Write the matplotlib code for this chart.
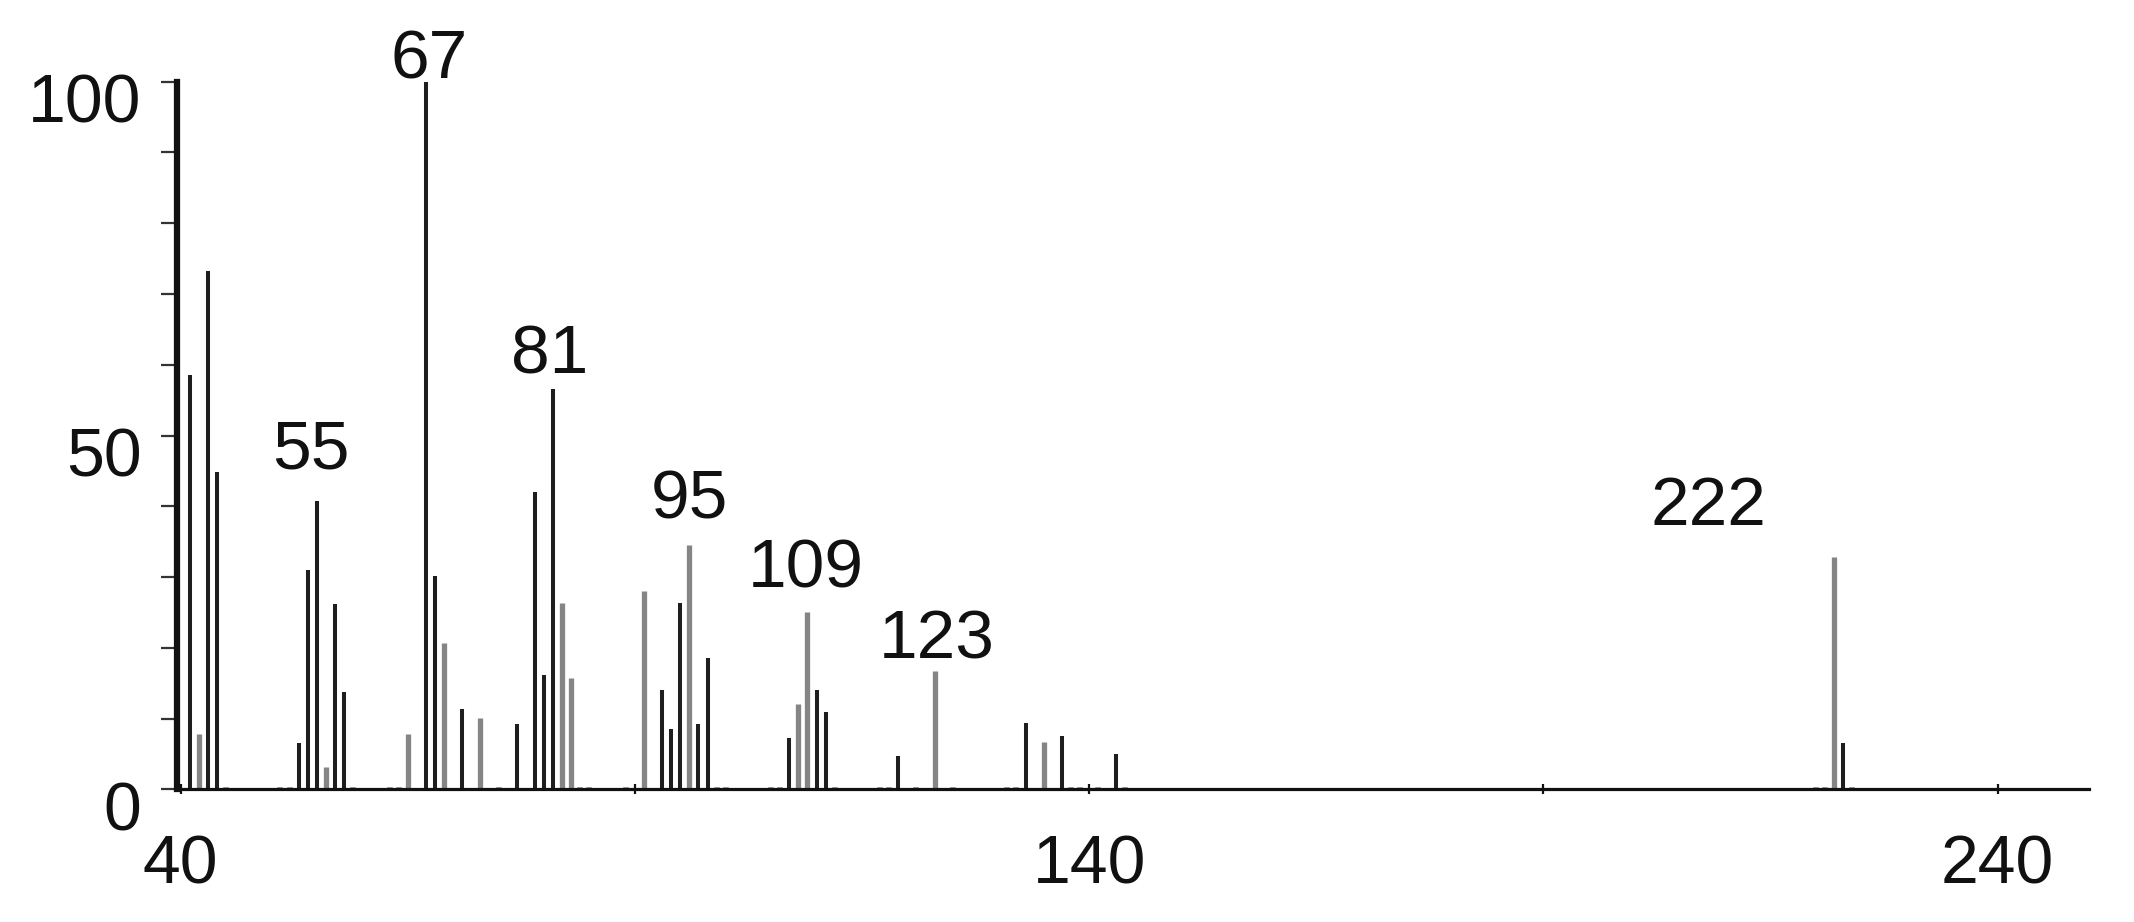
import matplotlib
matplotlib.use("Agg")
import matplotlib.pyplot as plt
from matplotlib.transforms import ScaledTranslation

plt.rcParams["font.family"] = ["Liberation Sans", "DejaVu Sans"]

# black peaks (m/z, relative intensity)
dark_mz = [41, 43, 44, 53, 54, 55, 57, 58, 67, 68, 71, 77, 79, 80, 81,
           93, 94, 95, 97, 98, 107, 110, 111, 119, 133, 137, 143, 223]
dark_int = [58.5, 73.2, 44.9, 6.5, 31.0, 40.8, 26.2, 13.8, 100.0, 30.2, 11.4, 9.3, 42.0, 16.2, 56.6,
            14.0, 8.5, 26.3, 9.2, 18.6, 7.3, 14.0, 11.0, 4.7, 9.4, 7.5, 5.0, 6.6]

# grey peaks
gray_mz = [42, 56, 65, 69, 73, 82, 83, 91, 96, 108, 109, 123, 135, 222]
gray_int = [7.8, 3.2, 7.8, 20.7, 10.1, 26.4, 15.7, 28.0, 34.5, 12.0, 25.0, 16.7, 6.7, 32.8]

# tiny peaks along the baseline
noise_mz = [45, 51, 52, 59, 63, 64, 75, 84, 85, 89, 99, 100, 105, 106, 112,
            117, 118, 121, 125, 131, 132, 138, 139, 141, 144, 220, 221, 224]
noise_int = [0.35] * len(noise_mz)

label_text = ["55", "67", "81", "95", "109", "123", "222"]
label_pos = [(54.4, 45.3), (67.4, 100.4), (80.6, 58.8), (96.0, 38.3),
             (108.8, 28.6), (123.2, 18.5), (208.2, 37.3)]

fig = plt.figure(figsize=(21.34, 9.22), dpi=100)
ax = fig.add_axes([0.0829, 0.1438, 0.8958, 0.7676])

ax.vlines(noise_mz, 0, noise_int, colors="#9a9a9a", lw=4.0)
ax.vlines(gray_mz, 0, gray_int, colors="#858585", lw=3.8)
ax.vlines(dark_mz, 0, dark_int, colors="#1e1e1e", lw=2.9)

for txt, (x, y) in zip(label_text, label_pos):
    ax.text(x, y, txt, ha="center", va="baseline", fontsize=50, color="#111111")

ax.set_xlim(39.6, 250)
ax.set_ylim(0, 100)

for side in ["top", "right"]:
    ax.spines[side].set_visible(False)
ax.spines["left"].set_linewidth(4.5)
ax.spines["left"].set_color("#111111")
ax.spines["bottom"].set_linewidth(2.3)
ax.spines["bottom"].set_color("#111111")

yt = list(range(0, 101, 10))
ax.set_yticks(yt)
ax.set_yticklabels([str(v) if v % 50 == 0 else "" for v in yt])
ax.tick_params(axis="y", length=11.5, width=1.6, color="#333333", pad=14,
               labelsize=49, labelcolor="#111111")

xt = [40, 90, 140, 190, 240]
ax.set_xticks(xt)
ax.set_xticklabels([str(v) if v in (40, 140, 240) else "" for v in xt])
ax.tick_params(axis="x", direction="inout", length=7, width=1.6, color="#111111",
               pad=28, labelsize=49, labelcolor="#111111")

# y labels sit a little below their ticks in the original
shift = ScaledTranslation(0, -0.16, fig.dpi_scale_trans)
for lab in ax.get_yticklabels():
    lab.set_transform(lab.get_transform() + shift)

fig.savefig("out.png", dpi=100, facecolor="white")
